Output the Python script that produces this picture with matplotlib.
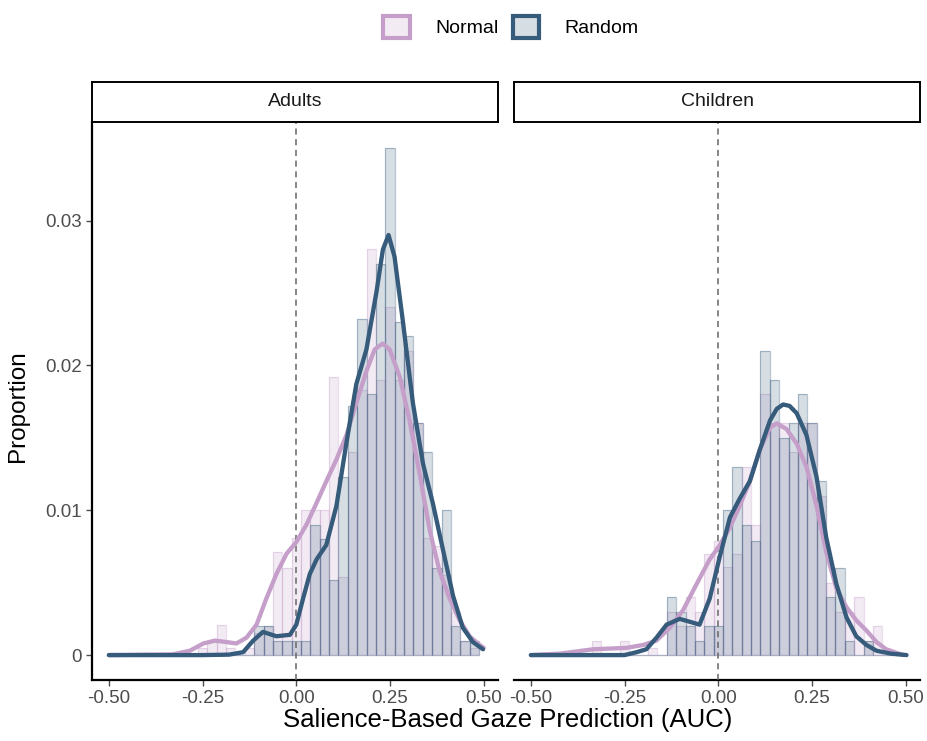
import numpy as np
import matplotlib
matplotlib.use('Agg')
import matplotlib.pyplot as plt
from matplotlib.patches import Patch

plt.rcParams['font.family'] = ['Liberation Sans', 'DejaVu Sans']

# bin centres of the histograms (binwidth 0.025)
bins = np.round(np.arange(-0.35, 0.476, 0.025), 3)
width = 0.025

adults_normal = [0, 0, 0, 0, 0.0005, 0.0009, 0.0021, 0.0005, 0, 0.0005,
                 0.0015, 0.002, 0.0071, 0.006, 0.0081, 0.010, 0.010, 0.010,
                 0.0192, 0.0054, 0.014, 0.0183, 0.028, 0.019, 0.024, 0.019,
                 0.021, 0.016, 0.0081, 0.0075, 0.0055, 0.003, 0.001, 0.0005]
adults_random = [0, 0, 0, 0, 0, 0, 0, 0, 0, 0,
                 0.002, 0.002, 0.001, 0.001, 0.001, 0.001, 0.009, 0.008,
                 0.0052, 0.0123, 0.0172, 0.0232, 0.018, 0.027, 0.035, 0.023,
                 0.022, 0.016, 0.014, 0.006, 0.010, 0.002, 0.001, 0.001]
children_normal = [0, 0.001, 0, 0, 0.001, 0, 0, 0.0005, 0, 0.003,
                   0.002, 0.004, 0.003, 0.007, 0.0079, 0.0061, 0.007, 0.013,
                   0.009, 0.018, 0.016, 0.016, 0.014, 0.016, 0.016, 0.011,
                   0.005, 0.003, 0.003, 0.004, 0.001, 0.002, 0, 0]
children_random = [0, 0, 0, 0, 0, 0, 0, 0, 0, 0.004,
                   0.003, 0.002, 0.001, 0.002, 0.002, 0.010, 0.013, 0.009,
                   0.0079, 0.021, 0.019, 0.015, 0.016, 0.018, 0.016, 0.012,
                   0.004, 0.006, 0.001, 0, 0.001, 0, 0, 0]

# density curves
adults_random_x = [-0.5, -0.25, -0.18, -0.142, -0.115, -0.089, -0.053, -0.017, 0.0, 0.018,
                   0.036, 0.054, 0.08, 0.107, 0.134, 0.16, 0.187, 0.214, 0.231, 0.246,
                   0.262, 0.284, 0.311, 0.338, 0.364, 0.391, 0.418, 0.444, 0.471, 0.498]
adults_random_y = [0, 0, 0.00003, 0.0002, 0.001, 0.0016, 0.0013, 0.0014, 0.0021, 0.0039,
                   0.0056, 0.0066, 0.0076, 0.0103, 0.0147, 0.0187, 0.0211, 0.0251, 0.028, 0.029,
                   0.0275, 0.0231, 0.0174, 0.0132, 0.0105, 0.0073, 0.0041, 0.0019, 0.0009, 0.0004]
adults_normal_x = [-0.5, -0.33, -0.284, -0.248, -0.217, -0.186, -0.16, -0.133, -0.106, -0.08,
                   -0.053, -0.026, 0.0, 0.027, 0.054, 0.08, 0.107, 0.134, 0.16, 0.187,
                   0.209, 0.23, 0.249, 0.276, 0.302, 0.329, 0.356, 0.382, 0.409, 0.436,
                   0.462, 0.489, 0.5]
adults_normal_y = [0, 0.00005, 0.0003, 0.0008, 0.001, 0.0009, 0.0008, 0.0012, 0.0021, 0.0039,
                   0.0056, 0.007, 0.0078, 0.009, 0.0105, 0.012, 0.0135, 0.0152, 0.0174, 0.0196,
                   0.0211, 0.0215, 0.0211, 0.0192, 0.0162, 0.0125, 0.0086, 0.0058, 0.0039, 0.0024,
                   0.0013, 0.0007, 0.0005]
children_random_x = [-0.5, -0.25, -0.218, -0.192, -0.165, -0.138, -0.103, -0.076, -0.05, -0.023,
                     0.004, 0.031, 0.057, 0.084, 0.111, 0.138, 0.156, 0.173, 0.19, 0.209,
                     0.235, 0.262, 0.288, 0.315, 0.342, 0.368, 0.395, 0.422, 0.46, 0.502]
children_random_y = [0, 0, 0.0002, 0.0004, 0.0012, 0.0021, 0.0025, 0.0023, 0.0021, 0.0039,
                     0.0068, 0.0095, 0.0108, 0.012, 0.0142, 0.0162, 0.017, 0.0173, 0.0172, 0.0167,
                     0.0152, 0.0123, 0.0081, 0.0049, 0.0026, 0.0013, 0.0007, 0.0003, 0.0001, 0]
children_normal_x = [-0.5, -0.423, -0.334, -0.245, -0.2, -0.165, -0.129, -0.094, -0.058, -0.023,
                     0.004, 0.031, 0.057, 0.084, 0.111, 0.138, 0.156, 0.182, 0.209, 0.235,
                     0.262, 0.288, 0.315, 0.342, 0.368, 0.395, 0.422, 0.448, 0.493]
children_normal_y = [0, 0.0001, 0.0004, 0.0005, 0.0007, 0.001, 0.0019, 0.0031, 0.0049, 0.0066,
                     0.0076, 0.0088, 0.0103, 0.012, 0.0142, 0.0157, 0.016, 0.0156, 0.0146, 0.013,
                     0.0103, 0.0071, 0.0046, 0.0033, 0.0024, 0.0017, 0.0009, 0.0004, 0]

panels = ['Adults', 'Children']
groups = ['Normal', 'Random']
pink = '#c59fc9'
blue = '#365b7b'

xticks = [-0.5, -0.25, 0, 0.25, 0.5]
xticklabels = ['-0.50', '-0.25', '0.00', '0.25', '0.50']
yticks = [0, 0.01, 0.02, 0.03]
yticklabels = ['0', '0.01', '0.02', '0.03']

hist = {('Adults', 'Normal'): adults_normal, ('Adults', 'Random'): adults_random,
        ('Children', 'Normal'): children_normal, ('Children', 'Random'): children_random}
dens = {('Adults', 'Normal'): (adults_normal_x, adults_normal_y),
        ('Adults', 'Random'): (adults_random_x, adults_random_y),
        ('Children', 'Normal'): (children_normal_x, children_normal_y),
        ('Children', 'Random'): (children_random_x, children_random_y)}
cols = {'Normal': pink, 'Random': blue}

fig = plt.figure(figsize=(9.27, 7.41), dpi=100)
lefts = [92 / 927, 514 / 927]
w = 406 / 927
bottom = 1 - 680 / 741
h = (680 - 122) / 741
strip_h = 40 / 741

for i, p in enumerate(panels):
    ax = fig.add_axes([lefts[i], bottom, w, h])
    for g in groups:
        ax.bar(bins, hist[(p, g)], width=width, color=cols[g], alpha=0.2,
               edgecolor='none', zorder=2)
        ax.bar(bins, hist[(p, g)], width=width, fill=False,
               edgecolor=matplotlib.colors.to_rgba(cols[g], 0.35), linewidth=0.9, zorder=2)
    for g in groups:
        xs, ys = dens[(p, g)]
        ax.plot(xs, ys, color=cols[g], lw=3.1, solid_capstyle='round',
                solid_joinstyle='round', zorder=4)
    ax.axvline(0, color='#666666', ls=(0, (4, 3)), lw=1.1, zorder=3)
    ax.set_xlim(-0.545, 0.538)
    ax.set_ylim(-0.00172, 0.0368)
    ax.set_xticks(xticks)
    ax.set_xticklabels(xticklabels)
    for s in ['top', 'right']:
        ax.spines[s].set_visible(False)
    ax.spines['bottom'].set_linewidth(1.6)
    ax.spines['left'].set_linewidth(1.6)
    ax.tick_params(axis='both', colors='#4d4d4d', labelsize=13.5, length=4, width=1)
    if i == 0:
        ax.set_yticks(yticks)
        ax.set_yticklabels(yticklabels)
    else:
        ax.spines['left'].set_visible(False)
        ax.set_yticks([])
    # facet strip
    sax = fig.add_axes([lefts[i], bottom + h, w, strip_h])
    sax.set_xticks([])
    sax.set_yticks([])
    for s in sax.spines.values():
        s.set_linewidth(1.4)
        s.set_color('black')
    sax.text(0.5, 0.5, p, ha='center', va='center', fontsize=14, color='#1a1a1a')

fig.text(18 / 927, 1 - 406 / 741, 'Proportion', rotation=90, ha='center', va='center',
         fontsize=17.5)
fig.text(508 / 927, 1 - 720 / 741, 'Salience-Based Gaze Prediction (AUC)', ha='center',
         va='center', fontsize=18.5)

handles = [Patch(facecolor=matplotlib.colors.to_rgba(cols[g], 0.2), edgecolor=cols[g],
                 linewidth=3) for g in groups]
fig.legend(handles, groups, loc='center', bbox_to_anchor=(511 / 927, 1 - 27 / 741),
           ncol=2, frameon=False, fontsize=14, handlelength=1.35, handleheight=1.35,
           columnspacing=0.75, handletextpad=1.3)

fig.savefig('out.png', dpi=100)
